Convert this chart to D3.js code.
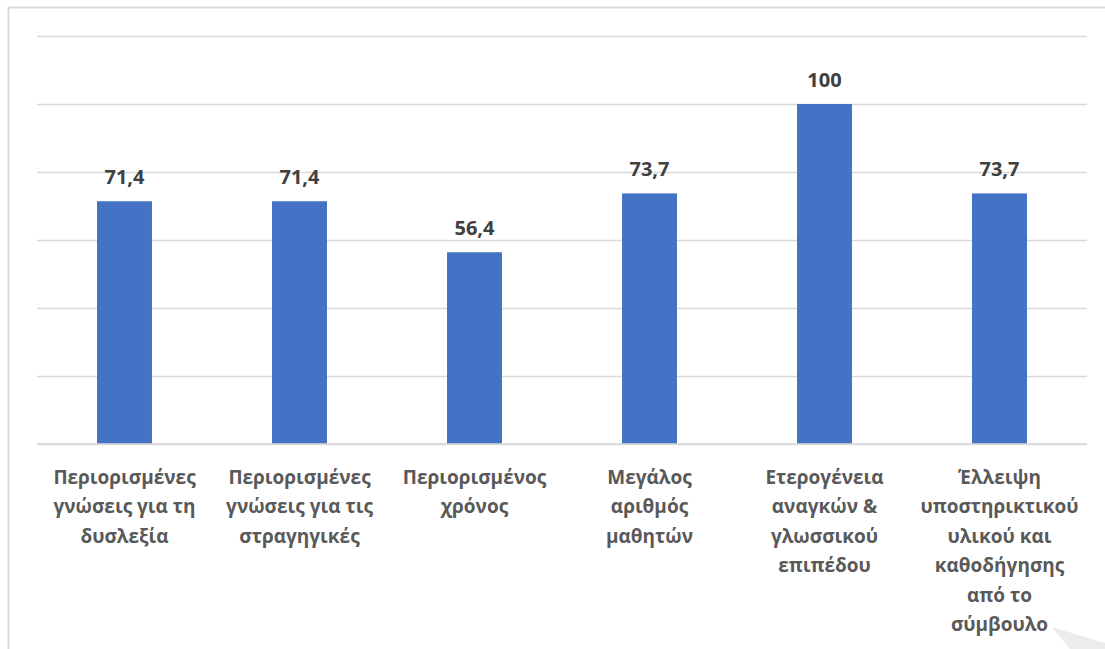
<!DOCTYPE html>
<html>
<head>
<meta charset="utf-8">
<script src="https://cdn.jsdelivr.net/npm/d3@7"></script>
<style>
  html, body { margin: 0; padding: 0; background: #fff; }
  svg { display: block; }
</style>
</head>
<body>
<script>
// Category labels, split into the lines they are printed on
const categories = [
  ["Περιορισμένες", "γνώσεις για τη", "δυσλεξία"],
  ["Περιορισμένες", "γνώσεις για τις", "στραγηγικές"],
  ["Περιορισμένος", "χρόνος"],
  ["Μεγάλος", "αριθμός", "μαθητών"],
  ["Ετερογένεια", "αναγκών &", "γλωσσικού", "επιπέδου"],
  ["Έλλειψη", "υποστηρικτικού", "υλικού και", "καθοδήγησης", "από το", "σύμβουλο"]
];
const values = [71.4, 71.4, 56.4, 73.7, 100, 73.7];
const gridTicks = [0, 20, 40, 60, 80, 100, 120];

const W = 1105, H = 649;
const margin = { left: 37, right: 18, top: 36, bottom: 205 };
const font = "'Open Sans', 'Noto Sans', sans-serif";

const svg = d3.select("body").append("svg")
  .attr("width", W).attr("height", H);

// outer frame (left and top edges)
svg.append("path")
  .attr("d", `M8.5,${H} L8.5,7.5 L${W},7.5`)
  .attr("fill", "none").attr("stroke", "#d9d9d9").attr("stroke-width", 2);

// pointer shadow in the lower right corner
svg.append("path")
  .attr("d", `M1052,627 L${W},643 L${W},${H} L1070,${H} Z`)
  .attr("fill", "#ececec");

const x = d3.scaleBand()
  .domain(d3.range(categories.length))
  .range([margin.left, W - margin.right])
  .paddingInner(0.686).paddingOuter(0.343);

const y = d3.scaleLinear()
  .domain([0, 120])
  .range([H - margin.bottom, margin.top]);

// horizontal gridlines
svg.append("g")
  .attr("transform", `translate(${margin.left},0)`)
  .call(d3.axisLeft(y).tickValues(gridTicks)
    .tickSize(-(W - margin.right - margin.left)).tickFormat(""))
  .call(g => g.select(".domain").remove())
  .call(g => g.selectAll(".tick line")
    .attr("stroke", "#d9d9d9").attr("stroke-width", 1.5));

// bars
svg.append("g").selectAll("rect")
  .data(values)
  .join("rect")
  .attr("x", (d, i) => x(i))
  .attr("width", x.bandwidth())
  .attr("y", d => y(d))
  .attr("height", d => y(0) - y(d))
  .attr("fill", "#4472c4");

// baseline
svg.append("line")
  .attr("x1", margin.left).attr("x2", W - margin.right)
  .attr("y1", y(0)).attr("y2", y(0))
  .attr("stroke", "#d9d9d9").attr("stroke-width", 1.5);

const fmt = v => d3.format(",")(v).replace(".", ",");

// value labels
svg.append("g").selectAll("text")
  .data(values)
  .join("text")
  .attr("x", (d, i) => x(i) + x.bandwidth() / 2)
  .attr("y", d => y(d) - 17)
  .attr("text-anchor", "middle")
  .attr("font-family", font)
  .attr("font-weight", "bold")
  .attr("font-size", 20)
  .attr("fill", "#404040")
  .text(d => fmt(d));

// category labels
const labels = svg.append("g").selectAll("text")
  .data(categories)
  .join("text")
  .attr("text-anchor", "middle")
  .attr("font-family", font)
  .attr("font-weight", "bold")
  .attr("font-size", 19)
  .attr("fill", "#595959");

labels.selectAll("tspan")
  .data((d, i) => d.map(line => ({ line, i })))
  .join("tspan")
  .attr("x", d => x(d.i) + x.bandwidth() / 2)
  .attr("y", (d, j) => y(0) + 39.5 + j * 29.5)
  .text(d => d.line);
</script>
</body>
</html>
